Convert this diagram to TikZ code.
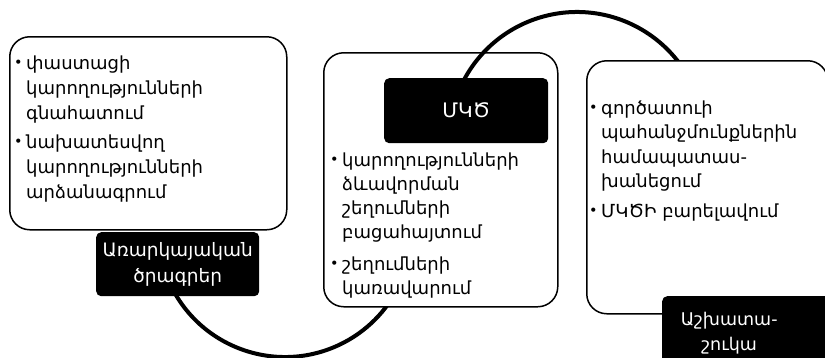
\documentclass[tikz,border=0pt]{standalone}
\usepackage{fontspec}
\usepackage{graphicx}
\setmainfont{DejaVu Sans}
\newcommand{\bulitem}{\raisebox{1.2pt}{\scalebox{0.8}{•}}}
\begin{document}
\begin{tikzpicture}[x=1pt,y=-1pt,
  box/.style={draw=black, line width=1.5pt, rounded corners=20pt, fill=white, inner sep=0pt, anchor=north west},
  tag/.style={fill=black, rounded corners=5pt, text=white, inner sep=0pt, anchor=north west, align=center, font=\fontsize{18.5}{25.5}\selectfont},
  arcline/.style={line width=4pt},
  itemtext/.style={inner sep=0pt, anchor=base west, font=\fontsize{18}{24.5}\selectfont}]
\useasboundingbox (0,0) rectangle (825,357);
% bottom arc
\draw[arcline] (285,230) ++(155:127) arc[start angle=155, end angle=25, radius=127];
% left box
\node[box, minimum width=277pt, minimum height=193pt] (L) at (9,36) {};
\node[tag, minimum width=163pt, minimum height=64pt] (LT) at (96,232) {Առարկայական\\ծրագրեր};
% middle box
\node[box, minimum width=234pt, minimum height=254pt] (M) at (323,52) {};
\draw[arcline] (577,140) ++(205:128) arc[start angle=205, end angle=325, radius=128];
\node[tag, minimum width=164pt, minimum height=65pt, font=\fontsize{20}{24}\selectfont] (MT) at (384,78) {ՄԿԾ};
% right box
\node[box, minimum width=241pt, minimum height=253pt] (R) at (586,60) {};
\fill[black] (740,296) rectangle (840,370);
\node[tag, minimum width=134pt, minimum height=74pt, text width=134pt, font=\fontsize{17.5}{25}\selectfont] (RT) at (662,296) {Աշխատա-\\շուկա\\[8pt]};
% texts
\node[itemtext, font=\fontsize{18}{25}\selectfont] (Ltx) at (14,69) {\begin{tabular}[t]{@{}l@{\hspace{3.5pt}}l@{}}
\bulitem&փաստացի\\ &կարողությունների\\ &գնահատում\\[4pt]
\bulitem&նախատեսվող\\ &կարողությունների\\ &արձանագրում\end{tabular}};
\node[itemtext, font=\fontsize{18}{24}\selectfont] (Mtx) at (330,166) {\begin{tabular}[t]{@{}l@{\hspace{3.5pt}}l@{}}
\bulitem&կարողությունների\\ &ձևավորման\\ &շեղումների\\ &բացահայտում\\[8pt]
\bulitem&շեղումների\\ &կառավարում\end{tabular}};
\node[itemtext] (Rtx) at (589,114) {\begin{tabular}[t]{@{}l@{\hspace{3.5pt}}l@{}}
\bulitem&գործատուի\\ &պահանջմունքներին\\ &համապատաս-\\ &խանեցում\\[5pt]
\bulitem&ՄԿԾԻ բարելավում\end{tabular}};
\end{tikzpicture}
\end{document}
